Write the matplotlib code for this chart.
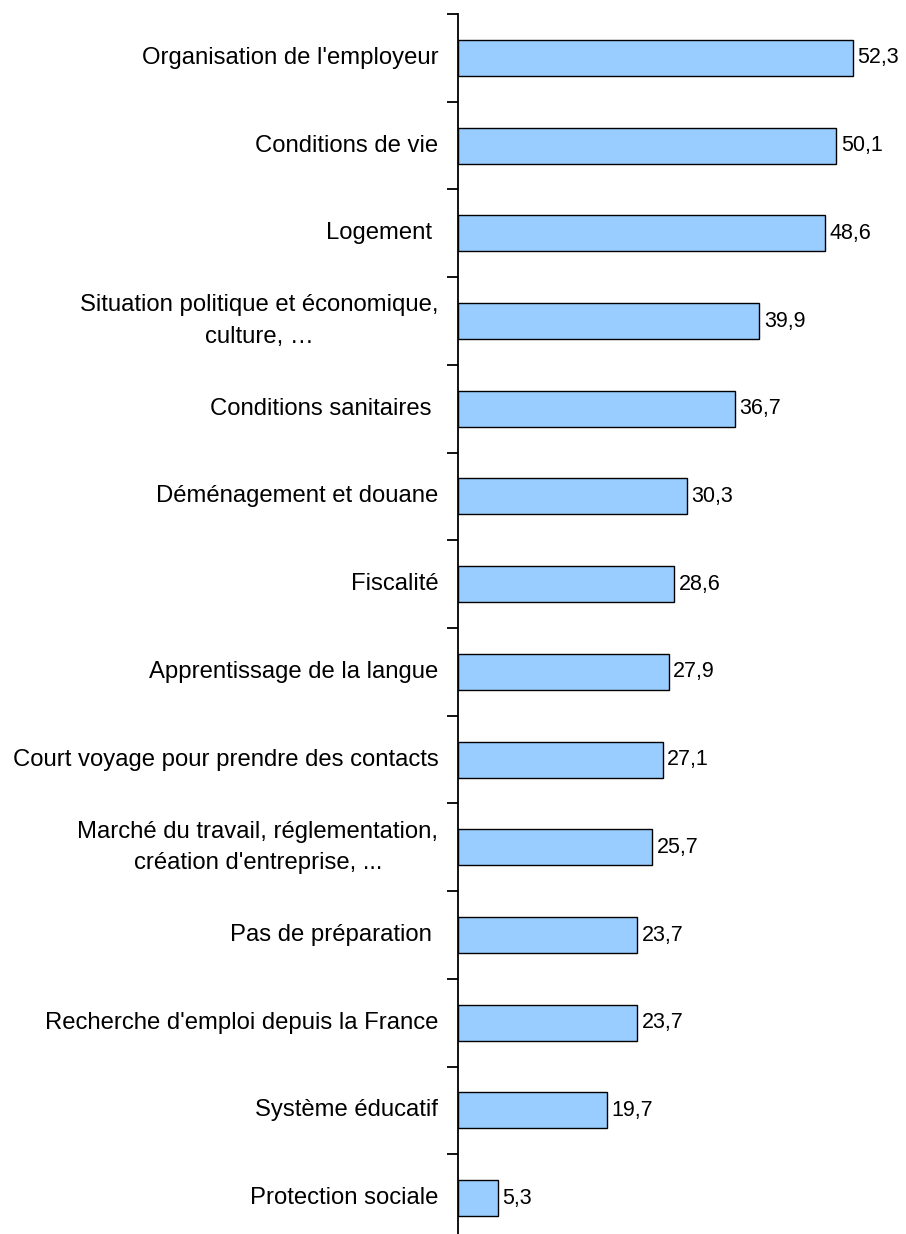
from matplotlib import pyplot as plt
import numpy as np

plt.rcParams['font.family'] = ['Liberation Sans', 'DejaVu Sans']

CATEGORIES = [
    "Organisation de l'employeur",
    "Conditions de vie",
    "Logement ",
    "Situation politique et économique,\nculture, …",
    "Conditions sanitaires ",
    "Déménagement et douane",
    "Fiscalité",
    "Apprentissage de la langue",
    "Court voyage pour prendre des contacts",
    "Marché du travail, réglementation,\ncréation d'entreprise, ...",
    "Pas de préparation ",
    "Recherche d'emploi depuis la France",
    "Système éducatif",
    "Protection sociale",
]
VALUES = [52.3, 50.1, 48.6, 39.9, 36.7, 30.3, 28.6, 27.9, 27.1, 25.7, 23.7, 23.7, 19.7, 5.3]

BAR_COLOR = '#99ccff'


def plot_barh(categories, values):
    fig = plt.figure(figsize=(9.06, 12.34), dpi=100)
    # axes run a little past the bottom edge, like the original
    ax = fig.add_axes([458 / 906, -8 / 1234, 438 / 906, 1228 / 1234])

    y = np.arange(len(categories))[::-1]
    bars = ax.barh(y, values, height=0.41, color=BAR_COLOR,
                   edgecolor='black', linewidth=1.0)

    for bar, val in zip(bars, values):
        ax.text(bar.get_width() + 0.6, bar.get_y() + bar.get_height() / 2,
                f'{val:.1f}'.replace('.', ','), ha='left', va='center',
                fontsize=15.5)

    for yi, label in zip(y, categories):
        ax.text(-2.6, yi, label, ha='right', va='center', fontsize=17.2,
                multialignment='center', linespacing=1.55)

    ax.set_xlim(0, 58)
    ax.set_ylim(-0.5, len(categories) - 0.5)

    ax.set_yticks(np.arange(-0.5, len(categories), 1.0))
    ax.set_yticklabels([])
    ax.tick_params(axis='y', direction='out', length=8, width=1.3, color='black')
    ax.set_xticks([])

    for side in ['top', 'right', 'bottom']:
        ax.spines[side].set_visible(False)
    ax.spines['left'].set_linewidth(1.3)

    fig.savefig('out.png', dpi=100)


plot_barh(CATEGORIES, VALUES)
